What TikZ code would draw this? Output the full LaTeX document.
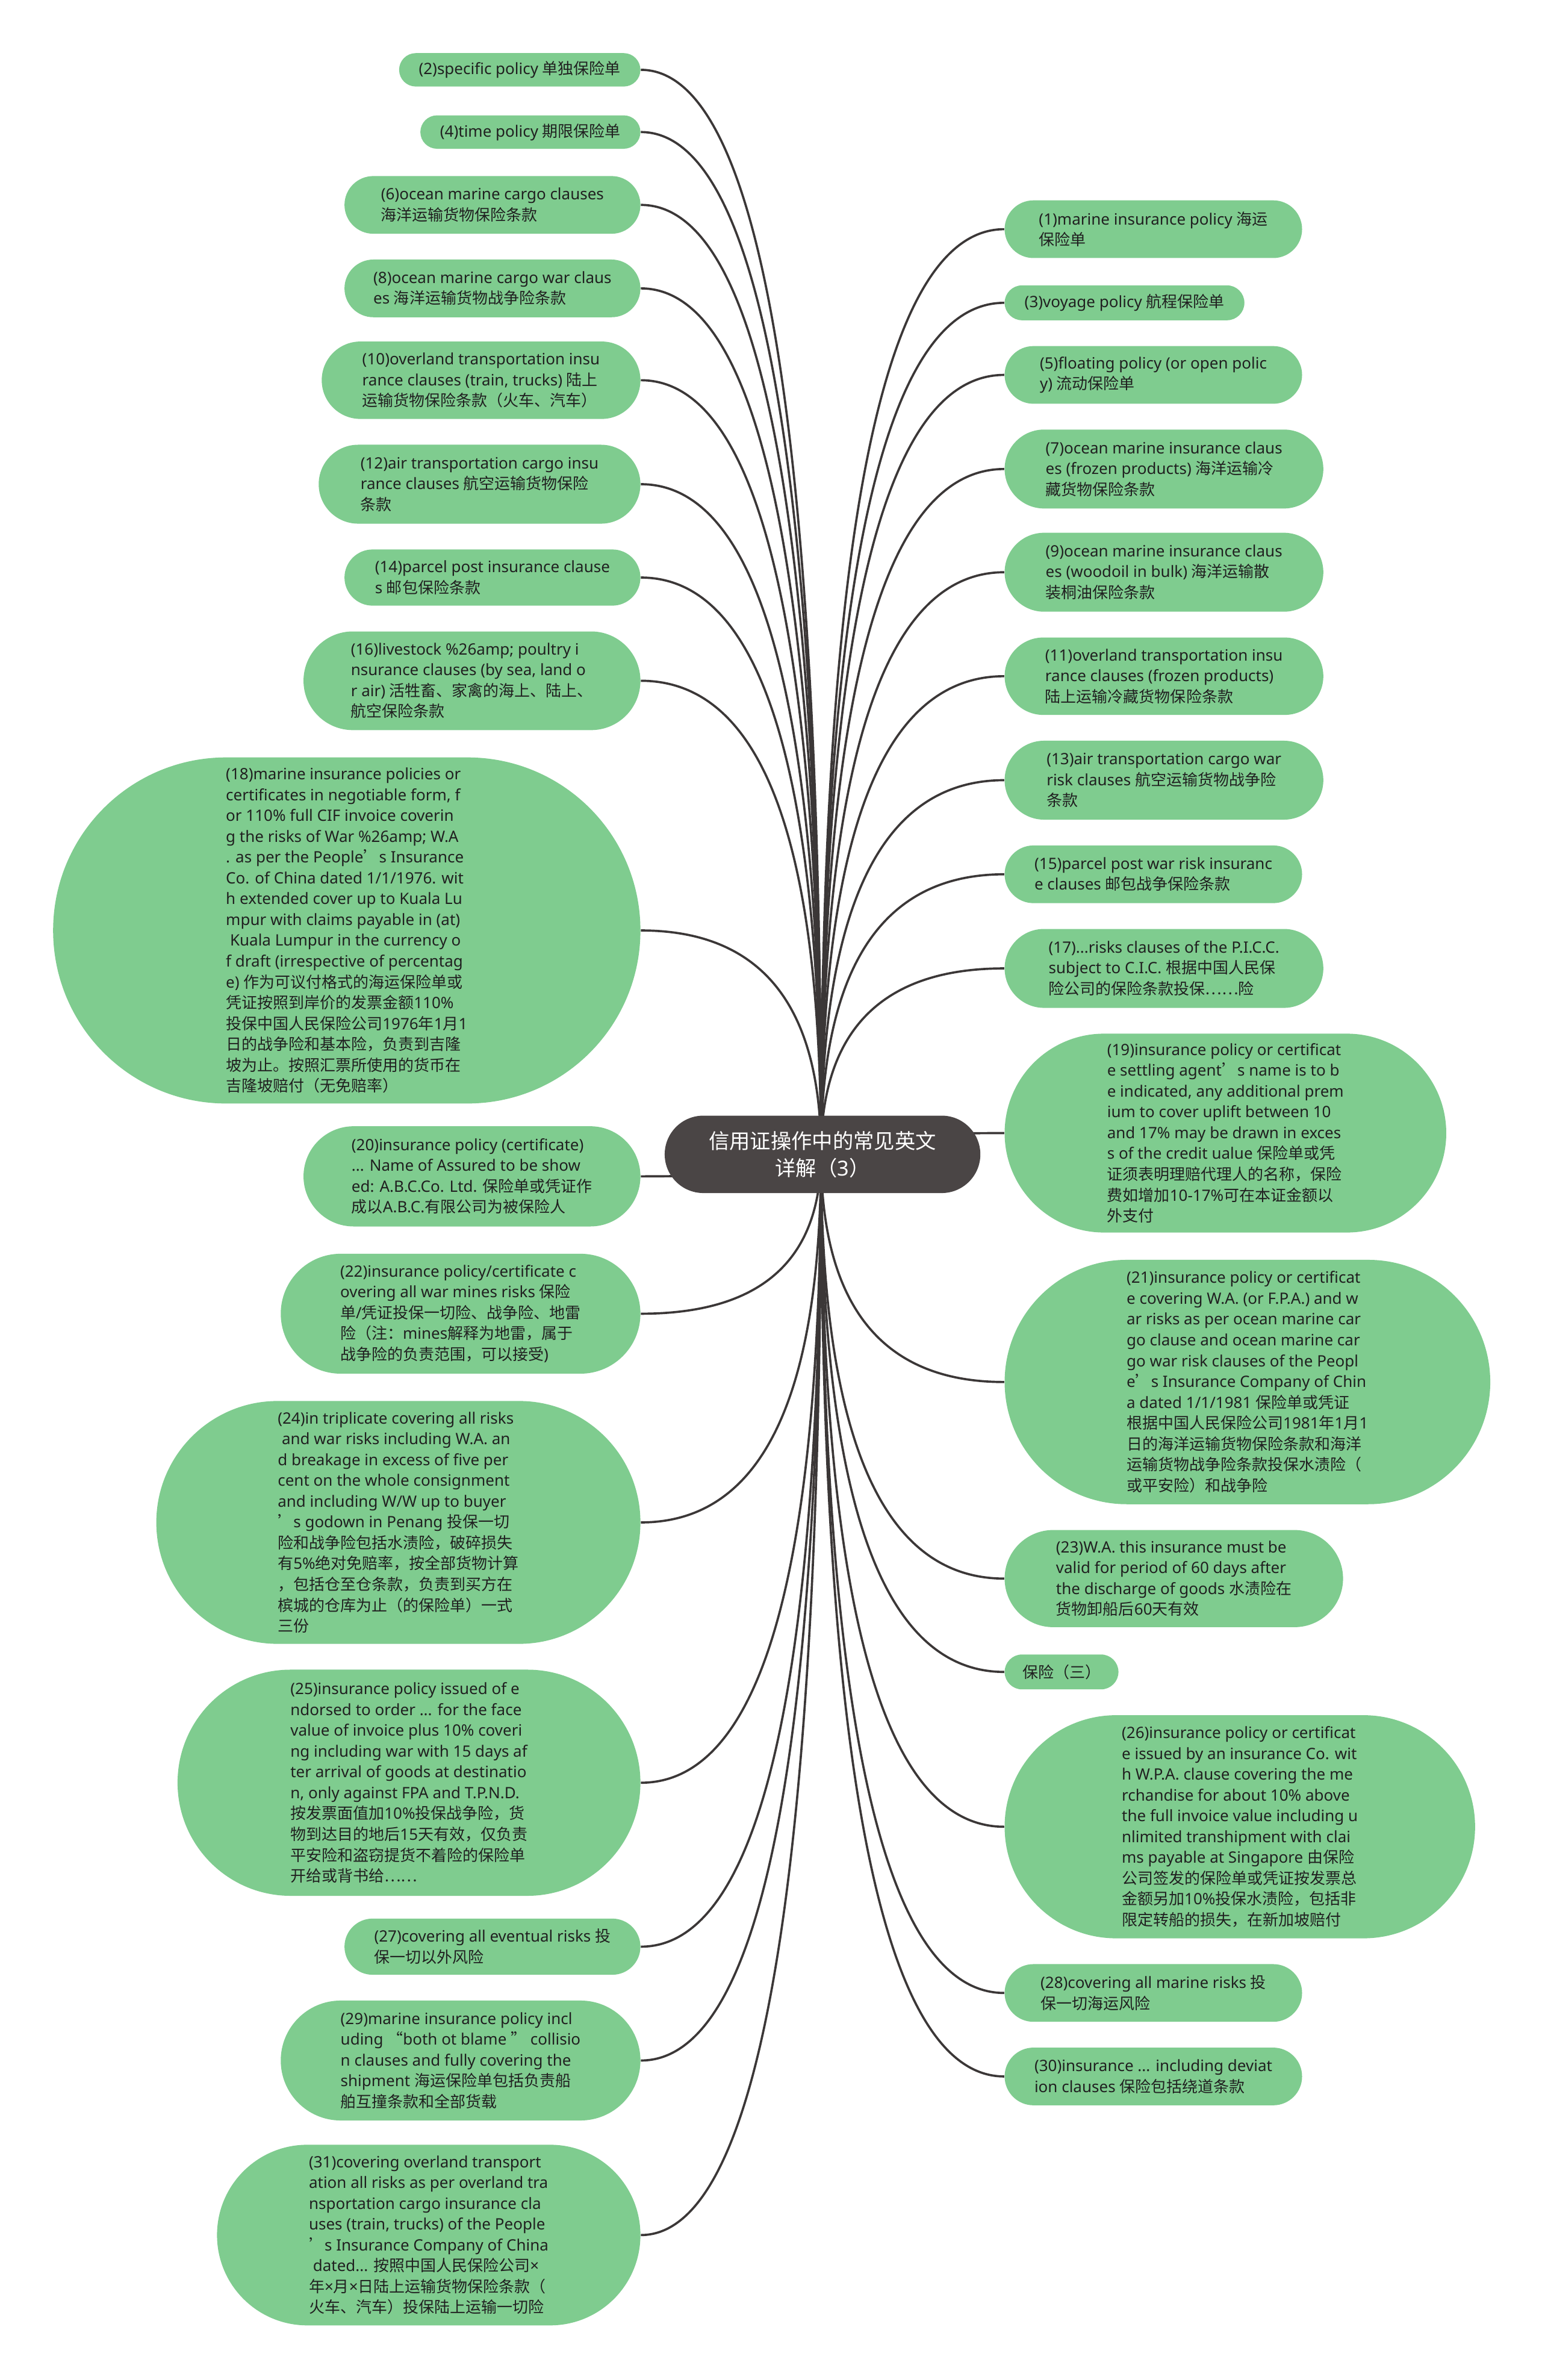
\documentclass[tikz,border=0pt]{standalone}
\usepackage{fontspec}
\setmainfont{Noto Sans}
\newfontfamily\cjkf{Noto Sans CJK SC}
\usetikzlibrary{backgrounds,calc}
\XeTeXinterchartokenstate=1
\newXeTeXintercharclass\CJKcls
\newcount\mmcc
\def\mmsetcls#1#2{\mmcc=#1 \loop\XeTeXcharclass\mmcc=\CJKcls\relax\ifnum\mmcc<#2 \advance\mmcc by 1 \repeat}
\mmsetcls{"3000}{"303F}
\mmsetcls{"4E00}{"9FFF}
\mmsetcls{"FF00}{"FFEF}
\mmsetcls{"2018}{"201D}
\mmsetcls{"2026}{"2026}
\XeTeXinterchartoks 0 \CJKcls = {\cjkf}
\XeTeXinterchartoks 4095 \CJKcls = {\cjkf}
\XeTeXinterchartoks \CJKcls 0 = {\rmfamily}
\XeTeXinterchartoks \CJKcls 4095 = {\rmfamily}
\definecolor{leafg}{HTML}{7FCC8F}
\definecolor{rootc}{HTML}{4A4545}
\definecolor{linec}{HTML}{3B3737}
\definecolor{txt}{HTML}{202020}
\tikzset{
 leaf/.style={fill=leafg, rectangle, align=left, inner sep=0pt, text=txt, font=\fontsize{7.8}{10.36}\selectfont},
 rootbox/.style={fill=rootc, rectangle, align=center, inner sep=0pt, text=white, font=\fontsize{10.3}{13.6}\selectfont},
 conn/.style={draw=linec, line width=1.1pt},
}
\newcommand\mmleaf[7][leaf]{%
 \pgfmathsetmacro\lw{(#5-#3)*0.7559}%
 \pgfmathsetmacro\lh{(#6-#4)*0.7559}%
 \pgfmathsetmacro\lr{\lh/2}%
 \node[#1, minimum width=\lw pt, minimum height=\lh pt, rounded corners=\lr pt] (#2) at ({(#3+#5)/2},{(#4+#6)/2}) {#7};}
\begin{document}
\begin{tikzpicture}[x=0.7559pt,y=-0.7559pt]
\useasboundingbox (0,0) rectangle (1016,1568);
\begin{scope}[on background layer]
\fill[white] (0,0) rectangle (1016,1568);
\end{scope}
\coordinate (hub) at (541,760);
\mmleaf[rootbox]{root}{438}{735}{646}{786}{信用证操作中的常见英文\\详解（3）}
% left
\mmleaf{L2}{263}{35}{422}{57}{(2)specific policy 单独保险单}
\mmleaf{L4}{277}{76}{422}{98}{(4)time policy 期限保险单}
\mmleaf{L6}{227}{116}{422}{154}{(6)ocean marine cargo clauses\\海洋运输货物保险条款}
\mmleaf{L8}{227}{171}{422}{209}{(8)ocean marine cargo war claus\\es 海洋运输货物战争险条款}
\mmleaf{L10}{212}{225}{422}{276}{(10)overland transportation insu\\rance clauses (train, trucks) 陆上\\运输货物保险条款（火车、汽车）}
\mmleaf{L12}{210}{293}{422}{345}{(12)air transportation cargo insu\\rance clauses 航空运输货物保险\\条款}
\mmleaf{L14}{227}{362}{422}{399}{(14)parcel post insurance clause\\s 邮包保险条款}
\mmleaf{L16}{200}{416}{422}{481}{(16)livestock \%26amp; poultry i\\nsurance clauses (by sea, land o\\r air) 活牲畜、家禽的海上、陆上、\\航空保险条款}
\mmleaf{L18}{35}{499}{422}{727}{(18)marine insurance policies or\\certificates in negotiable form, f\\or 110\% full CIF invoice coverin\\g the risks of War \%26amp; W.A\\. as per the People’s Insurance\\Co. of China dated 1/1/1976. wit\\h extended cover up to Kuala Lu\\mpur with claims payable in (at)\\\ Kuala Lumpur in the currency o\\f draft (irrespective of percentag\\e) 作为可议付格式的海运保险单或\\凭证按照到岸价的发票金额110\%\\投保中国人民保险公司1976年1月1\\日的战争险和基本险，负责到吉隆\\坡为止。按照汇票所使用的货币在\\吉隆坡赔付（无免赔率）}
\mmleaf{L20}{200}{742}{422}{808}{(20)insurance policy (certificate)\\... Name of Assured to be show\\ed: A.B.C.Co. Ltd. 保险单或凭证作\\成以A.B.C.有限公司为被保险人}
\mmleaf{L22}{185}{826}{422}{905}{(22)insurance policy/certificate c\\overing all war mines risks 保险\\单/凭证投保一切险、战争险、地雷\\险（注：mines解释为地雷，属于\\战争险的负责范围，可以接受)}
\mmleaf{L24}{103}{923}{422}{1083}{(24)in triplicate covering all risks\\\ and war risks including W.A. an\\d breakage in excess of five per\\cent on the whole consignment\\and including W/W up to buyer\\’s godown in Penang 投保一切\\险和战争险包括水渍险，破碎损失\\有5\%绝对免赔率，按全部货物计算\\，包括仓至仓条款，负责到买方在\\槟城的仓库为止（的保险单）一式\\三份}
\mmleaf{L25}{117}{1100}{422}{1249}{(25)insurance policy issued of e\\ndorsed to order ... for the face\\value of invoice plus 10\% coveri\\ng including war with 15 days af\\ter arrival of goods at destinatio\\n, only against FPA and T.P.N.D.\\按发票面值加10\%投保战争险，货\\物到达目的地后15天有效，仅负责\\平安险和盗窃提货不着险的保险单\\开给或背书给……}
\mmleaf{L27}{227}{1264}{422}{1301}{(27)covering all eventual risks 投\\保一切以外风险}
\mmleaf{L29}{185}{1318}{422}{1397}{(29)marine insurance policy incl\\uding “both ot blame ” collisio\\n clauses and fully covering the\\shipment 海运保险单包括负责船\\舶互撞条款和全部货载}
\mmleaf{L31}{143}{1413}{422}{1532}{(31)covering overland transport\\ation all risks as per overland tra\\nsportation cargo insurance cla\\uses (train, trucks) of the People\\’s Insurance Company of China\\\ dated... 按照中国人民保险公司×\\年×月×日陆上运输货物保险条款（\\火车、汽车）投保陆上运输一切险}
% right
\mmleaf{R1}{662}{132}{858}{170}{(1)marine insurance policy 海运\\保险单}
\mmleaf{R3}{662}{188}{820}{211}{(3)voyage policy 航程保险单}
\mmleaf{R5}{662}{228}{858}{266}{(5)floating policy (or open polic\\y) 流动保险单}
\mmleaf{R7}{662}{283}{872}{335}{(7)ocean marine insurance claus\\es (frozen products) 海洋运输冷\\藏货物保险条款}
\mmleaf{R9}{662}{351}{872}{403}{(9)ocean marine insurance claus\\es (woodoil in bulk) 海洋运输散\\装桐油保险条款}
\mmleaf{R11}{662}{420}{872}{471}{(11)overland transportation insu\\rance clauses (frozen products)\\陆上运输冷藏货物保险条款}
\mmleaf{R13}{662}{488}{872}{540}{(13)air transportation cargo war\\risk clauses 航空运输货物战争险\\条款}
\mmleaf{R15}{662}{557}{858}{595}{(15)parcel post war risk insuranc\\e clauses 邮包战争保险条款}
\mmleaf{R17}{662}{612}{872}{664}{(17)...risks clauses of the P.I.C.C.\\subject to C.I.C. 根据中国人民保\\险公司的保险条款投保……险}
\mmleaf{R19}{662}{681}{953}{812}{(19)insurance policy or certificat\\e settling agent’s name is to b\\e indicated, any additional prem\\ium to cover uplift between 10\\and 17\% may be drawn in exces\\s of the credit ualue 保险单或凭\\证须表明理赔代理人的名称，保险\\费如增加10-17\%可在本证金额以\\外支付}
\mmleaf{R21}{662}{830}{982}{991}{(21)insurance policy or certificat\\e covering W.A. (or F.P.A.) and w\\ar risks as per ocean marine car\\go clause and ocean marine car\\go war risk clauses of the Peopl\\e’s Insurance Company of Chin\\a dated 1/1/1981 保险单或凭证\\根据中国人民保险公司1981年1月1\\日的海洋运输货物保险条款和海洋\\运输货物战争险条款投保水渍险（\\或平安险）和战争险}
\mmleaf{R23}{662}{1008}{885}{1072}{(23)W.A. this insurance must be\\valid for period of 60 days after\\the discharge of goods 水渍险在\\货物卸船后60天有效}
\mmleaf{RS}{662}{1090}{737}{1113}{保险（三）}
\mmleaf{R26}{662}{1130}{972}{1277}{(26)insurance policy or certificat\\e issued by an insurance Co. wit\\h W.P.A. clause covering the me\\rchandise for about 10\% above\\the full invoice value including u\\nlimited transhipment with clai\\ms payable at Singapore 由保险\\公司签发的保险单或凭证按发票总\\金额另加10\%投保水渍险，包括非\\限定转船的损失，在新加坡赔付}
\mmleaf{R28}{662}{1294}{858}{1332}{(28)covering all marine risks 投\\保一切海运风险}
\mmleaf{R30}{662}{1349}{858}{1387}{(30)insurance ... including deviat\\ion clauses 保险包括绕道条款}
\begin{scope}[on background layer]
\foreach \n in {L2,L4,L6,L8,L10,L12,L14,L16,L18,L20,L22,L24,L25,L27,L29,L31}
 \draw[conn] (hub) .. controls ($(hub)!0.6667!(hub|-\n.east)$) and ($(\n.east)!0.6667!(hub|-\n.east)$) .. (\n.east);
\foreach \n in {R1,R3,R5,R7,R9,R11,R13,R15,R17,R19,R21,R23,RS,R26,R28,R30}
 \draw[conn] (hub) .. controls ($(hub)!0.6667!(hub|-\n.west)$) and ($(\n.west)!0.6667!(hub|-\n.west)$) .. (\n.west);
\end{scope}
\end{tikzpicture}
\end{document}
